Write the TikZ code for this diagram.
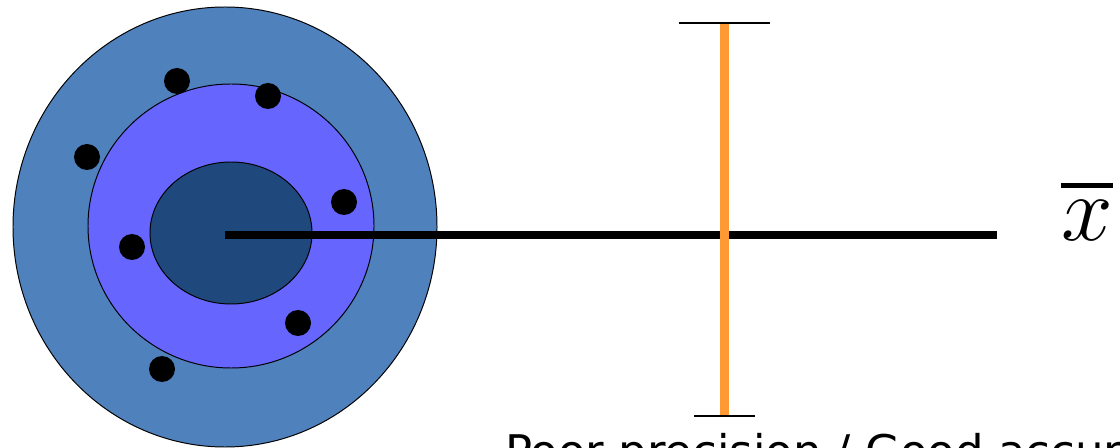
\RequirePackage{fix-cm}
\documentclass[tikz,border=0pt]{standalone}
\usepackage{fontspec}
\usepackage{xcolor}
\usepackage{tikz}
\usetikzlibrary{arrows.meta, positioning, shapes.geometric}
\setsansfont{DejaVu Sans}
\definecolor{ringouter}{HTML}{4F81BD}
\definecolor{ringmiddle}{HTML}{6666FF}
\definecolor{ringinner}{HTML}{1F497D}
\definecolor{barorange}{HTML}{FF9933}

\begin{document}
\begin{tikzpicture}[
    x=0.25mm, y=-0.25mm,
    ring/.style={ellipse, draw=black, line width=0.7pt, inner sep=0pt},
    shot/.style={circle, fill=black, minimum size=6.5mm, inner sep=0pt},
    meanline/.style={line width=2mm},
    errbar/.style={draw=barorange, line width=2.25mm},
    errcap/.style={line width=0.5mm}
]
\useasboundingbox (0,0) rectangle (1120,448);
\clip (0,0) rectangle (1120,448);

\node[ring, fill=ringouter, minimum width=106mm, minimum height=110mm] (Outer) at (225,227) {};
\node[ring, fill=ringmiddle, minimum width=71.5mm, minimum height=71mm] (Middle) at (231,226) {};
\node[ring, fill=ringinner, minimum width=40.5mm, minimum height=35.5mm] (Inner) at (231,233) {};

\node[shot] (ShotA) at (177,81) {};
\node[shot] (ShotB) at (268,96) {};
\node[shot] (ShotC) at (87,157) {};
\node[shot] (ShotD) at (344,202) {};
\node[shot] (ShotE) at (132,247) {};
\node[shot] (ShotF) at (298,323) {};
\node[shot] (ShotG) at (162,369) {};

\coordinate (MeanStart) at (225,235);
\coordinate (MeanEnd) at (997,235);
\draw[meanline] (MeanStart) -- (MeanEnd);

\coordinate (BarTop) at (724,23);
\coordinate (BarBottom) at (724,416);
\draw[errbar] (BarTop) -- (BarBottom);
\coordinate (CapTopL) at (679,23);
\coordinate (CapTopR) at (770,23);
\coordinate (CapBotL) at (694,416);
\coordinate (CapBotR) at (755,416);
\draw[errcap] (CapTopL) -- (CapTopR);
\draw[errcap] (CapBotL) -- (CapBotR);

\node[font=\fontsize{66}{72}\selectfont, inner sep=0pt] (MeanLabel) at (1087,210) {$\fontdimen8\textfont3=1.1mm \overline{x}$};

\node[anchor=base west, font=\sffamily\fontsize{32}{38}\selectfont, inner sep=0pt] (Caption) at (505,467) {Poor precision / Good accuracy};

\end{tikzpicture}
\end{document}
